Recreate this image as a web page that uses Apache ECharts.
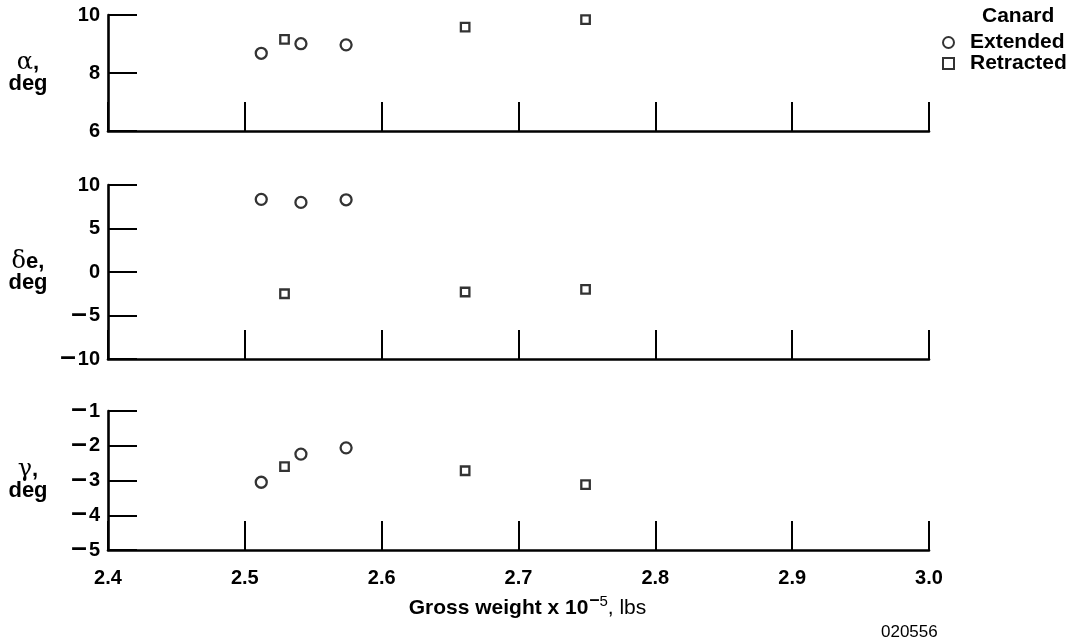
<!DOCTYPE html>
<html><head><meta charset="utf-8">
<script src="https://cdn.jsdelivr.net/npm/echarts@6/dist/echarts.min.js"></script>
<style>html,body{margin:0;padding:0;background:#fff}#c{width:1067px;height:643px}</style>
</head><body><div id="c"></div>
<script>
// ---- data ----
const xTickLabels = ['2.4','2.5','2.6','2.7','2.8','2.9','3.0'];
const extWeight = [2.512, 2.541, 2.574];
const retWeight = [2.529, 2.661, 2.749];
const extAlpha = [8.68, 9.01, 8.97];
const retAlpha = [9.16, 9.58, 9.84];
const extDeltaE = [8.35, 8.0, 8.3];
const retDeltaE = [-2.5, -2.3, -2.0];
const extGamma = [-3.05, -2.24, -2.06];
const retGamma = [-2.6, -2.72, -3.12];
const alphaRange = [6, 10, 2];
const deltaERange = [-10, 10, 5];
const gammaRange = [-5, -1, 1];

const FONT = '"Liberation Sans", Arial, Helvetica, sans-serif';
const SERIF = '"DejaVu Serif", "Liberation Serif", serif';
const grids = [
  {left: 108, top: 15, width: 821, height: 116},
  {left: 108, top: 185, width: 821, height: 174},
  {left: 108, top: 411, width: 821, height: 139}
];
const ranges = [alphaRange, deltaERange, gammaRange];
const names = ['{g|α}{b|,}\n{b|deg}', '{g|δ}{b|e,}\n{b|deg}', '{g|γ}{b|,}\n{b|deg}'];
const axisLine = {show: true, onZero: false, lineStyle: {color: '#000', width: 2.6}};
const axisTick = {show: true, inside: true, length: 29, lineStyle: {color: '#000', width: 2}};

const xAxis = grids.map((g, i) => ({
  gridIndex: i, type: 'value', min: 2.4, max: 3.0, interval: 0.1,
  axisLine, axisTick, splitLine: {show: false},
  axisLabel: {show: i === 2, color: '#000', fontSize: 20, fontWeight: 'bold', fontFamily: FONT, margin: 18,
    formatter: v => xTickLabels[Math.round((v - 2.4) * 10)] || ''},
  name: i === 2 ? '{b|Gross weight x 10}{m|–}{s|5}{r|, lbs}' : '',
  nameLocation: 'middle', nameGap: 41,
  nameTextStyle: {padding: [0, 0, 0, 18], rich: {
    b: {fontSize: 21, fontWeight: 'bold', fontFamily: FONT, color: '#000', verticalAlign: 'bottom'},
    m: {fontSize: 18, fontWeight: 'bold', fontFamily: FONT, color: '#000', verticalAlign: 'bottom', padding: [0, 0, 10, 1]},
    s: {fontSize: 15, fontWeight: 'normal', fontFamily: FONT, color: '#000', verticalAlign: 'bottom', padding: [0, 0, 10, 0]},
    r: {fontSize: 21, fontFamily: FONT, color: '#000', verticalAlign: 'bottom'}
  }}
}));
const yAxis = grids.map((g, i) => ({
  gridIndex: i, type: 'value', min: ranges[i][0], max: ranges[i][1], interval: ranges[i][2],
  axisLine, axisTick, splitLine: {show: false},
  axisLabel: {color: '#000', fontSize: 20, fontWeight: 'bold', fontFamily: FONT, margin: 8,
    formatter: v => (v < 0 ? '{m|–}{d|' + Math.abs(v) + '}' : '{d|' + v + '}'),
    rich: {
      m: {fontSize: 28, fontWeight: 'bold', fontFamily: FONT, color: '#000', padding: [0, 2, 3, 0]},
      d: {fontSize: 20, fontWeight: 'bold', fontFamily: FONT, color: '#000'}
    }},
  name: names[i], nameLocation: 'middle', nameRotate: 0, nameGap: 80,
  nameTextStyle: {align: 'center', rich: {
    g: {fontSize: 24, fontFamily: SERIF, color: '#000', lineHeight: 21},
    b: {fontSize: 22, fontWeight: 'bold', fontFamily: FONT, color: '#000', lineHeight: 21}
  }}
}));
const sym = {color: '#fff', borderColor: '#000', borderWidth: 2.3};
const zip = (a, b) => a.map((v, k) => [v, b[k]]);
const extY = [extAlpha, extDeltaE, extGamma];
const retY = [retAlpha, retDeltaE, retGamma];
const series = [];
for (let i = 0; i < 3; i++) {
  series.push({type: 'scatter', name: 'Extended', xAxisIndex: i, yAxisIndex: i, data: zip(extWeight, extY[i]),
    symbol: 'circle', symbolSize: 11, itemStyle: sym});
  series.push({type: 'scatter', name: 'Retracted', xAxisIndex: i, yAxisIndex: i, data: zip(retWeight, retY[i]),
    symbol: 'rect', symbolSize: 8.5, itemStyle: sym});
}
const chart = echarts.init(document.getElementById('c'));
chart.setOption({
  animation: false,
  backgroundColor: '#fff',
  title: [
    {text: 'Canard', left: 977, top: 1, textStyle: {fontSize: 21, fontWeight: 'bold', fontFamily: FONT, color: '#000'}},
    {text: '020556', left: 876, top: 619, textStyle: {fontSize: 17, fontWeight: 'normal', fontFamily: FONT, color: '#000'}}
  ],
  legend: {
    orient: 'vertical', left: 937, top: 27, itemWidth: 11, itemHeight: 11, itemGap: 0,
    data: ['Extended', 'Retracted'],
    textStyle: {fontSize: 21, lineHeight: 21, fontWeight: 'bold', fontFamily: FONT, color: '#000', padding: [0, 0, 0, 11]}
  },
  grid: grids,
  xAxis, yAxis, series
});
</script></body></html>
